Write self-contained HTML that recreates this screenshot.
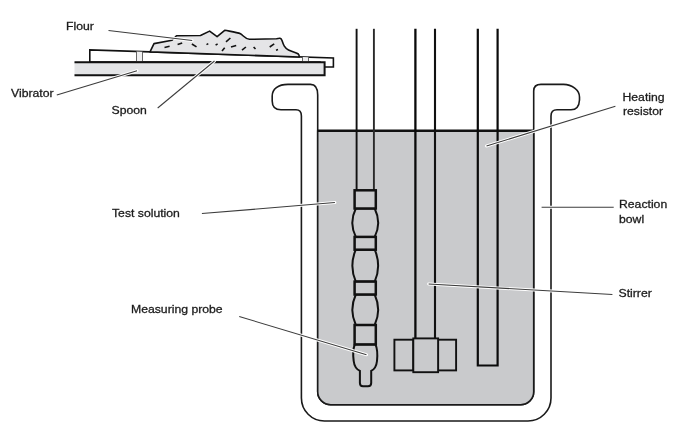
<!DOCTYPE html>
<html><head><meta charset="utf-8"><style>
html,body{margin:0;padding:0;background:#fff;width:699px;height:435px;overflow:hidden;}
svg{display:block;}
text{font-family:"Liberation Sans",sans-serif;font-size:11.7px;fill:#1c1c1c;stroke:#1c1c1c;stroke-width:0.3;}
</style></head><body>
<svg width="699" height="435" viewBox="0 0 699 435">
<defs><filter id="soft" x="-5%" y="-20%" width="110%" height="140%"><feOffset dx="0" dy="0"/></filter></defs>
<!-- Bowl body -->
<path d="M317.7,95 Q317.7,84.4 310.5,84.4 L288,84.4 C278,84.4 272.2,89 272.2,96 L272.2,101 Q272.2,109.8 281,109.8 L296,109.8 Q301.4,109.8 301.4,116 L301.4,398 A23,23 0 0 0 324.4,421 L528,421 A23,23 0 0 0 551,398 L551,116 Q551,109.8 557,109.8 L571,109.8 Q579,109.8 579.5,100 L579.5,97 C579.5,90 572,84.4 563.5,84.4 L541,84.4 Q533.7,84.4 533.7,91 L533.7,391.7 A13,13 0 0 1 520.7,404.7 L330.7,404.7 A13,13 0 0 1 317.7,391.7 Z" fill="#fff" stroke="#1a1a1a" stroke-width="1.6"/>
<!-- liquid -->
<path d="M317.7,131 L533.7,131 L533.7,391.7 A13,13 0 0 1 520.7,404.7 L330.7,404.7 A13,13 0 0 1 317.7,391.7 Z" fill="#c9cacc" stroke="#1a1a1a" stroke-width="1.6"/>
<line x1="317.7" y1="130.8" x2="533.7" y2="130.8" stroke="#111" stroke-width="2.6"/>

<!-- probe tube -->
<g fill="none">
<line x1="356.6" y1="28.8" x2="356.6" y2="191" stroke="#111" stroke-width="1.9"/>
<line x1="373.9" y1="28.8" x2="373.9" y2="191" stroke="#2a2a2a" stroke-width="1.9"/>
<!-- stirrer shaft -->
<line x1="415.4" y1="28.7" x2="415.4" y2="338.4" stroke="#0a0a0a" stroke-width="2.3"/>
<line x1="435" y1="28.7" x2="435" y2="338.4" stroke="#111" stroke-width="2.1"/>
<!-- heater -->
<path d="M477.8,28.7 L477.8,365.5 L497.6,365.5 L497.6,28.7" stroke="#0a0a0a" stroke-width="2.2"/>
</g>
<!-- probe body -->
<g stroke="#111" fill="#c9cacc">
<path d="M355.8,208.5 A32.2,32.2 0 0 0 355.8,236.9 L374.7,236.9 A32.2,32.2 0 0 0 374.7,208.5 Z" stroke-width="2"/>
<path d="M355.8,249.7 A40.2,40.2 0 0 0 355.8,281.6 L374.7,281.6 A40.2,40.2 0 0 0 374.7,249.7 Z" stroke-width="2"/>
<path d="M355.8,294.5 A36.9,36.9 0 0 0 355.8,325 L374.7,325 A36.9,36.9 0 0 0 374.7,294.5 Z" stroke-width="2"/>
<path d="M354.8,344.4 C353,349 353,356 353.7,361 C354.3,366.5 356.5,369.3 359.9,370.8 L359.9,383 Q359.9,386.2 363,386.2 L368,386.2 Q371.2,386.2 371.2,383 L371.2,370.8 C374.6,369.3 376.4,366.5 377,361 C377.5,356 377.5,349 375.5,344.4 Z" stroke-width="2"/>
<rect x="354.6" y="190.3" width="21.2" height="18.2" stroke-width="2.5"/>
<rect x="354.6" y="236.9" width="21.2" height="12.8" stroke-width="2.5"/>
<rect x="354.6" y="281.6" width="21.2" height="12.9" stroke-width="2.5"/>
<rect x="354.6" y="325" width="21.2" height="19.4" stroke-width="2.5"/>
</g>
<!-- stirrer blades -->
<g stroke="#111" fill="#c9cacc" stroke-width="1.9">
<rect x="394.4" y="339.7" width="18.9" height="30.7"/>
<rect x="438.1" y="339.7" width="18" height="30.7"/>
<rect x="413.3" y="338.4" width="24.8" height="33.8"/>
</g>

<!-- spoon -->
<g transform="translate(0,0.35)">
<path d="M89.8,61.8 L89.8,49.6 L333.4,57.6 L333.4,66.7 L320,66.7 L320,61.8 Z" fill="#fff" stroke="#111" stroke-width="1.6"/>
<path d="M136.5,51.2 L142.5,51.4 L142.5,61 L136.5,61 Z M302.5,56.6 L308.5,56.8 L308.5,61 L302.5,61 Z" fill="#efeff0"/>
<g stroke="#555" stroke-width="0.9">
<line x1="136.5" y1="51.2" x2="136.5" y2="61"/>
<line x1="142.5" y1="51.4" x2="142.5" y2="61"/>
<line x1="302.5" y1="56.6" x2="302.5" y2="61"/>
<line x1="308.5" y1="56.8" x2="308.5" y2="61"/>
</g>
<!-- vibrator -->
<rect x="74.5" y="61.8" width="250.1" height="13.2" fill="#e3e4e6"/>
<path d="M74.5,61.8 L324.6,61.8 L324.6,75 L74.5,75" fill="none" stroke="#111" stroke-width="2"/>
</g>
<!-- flour -->
<path d="M150,51.9 L154,43.6 L172,40.3 L176.5,35.8 L200.5,35.5 L209.6,31.1 L217.1,36.6 L224.7,30.3 C231,31.5 237,32.2 240.5,33.8 C243.5,35.5 245,39 249.5,39.3 L276.5,38.8 C279.5,38 281,37.8 282,40.5 C283.5,45 284.5,48 288.5,50 C292.5,52 296.5,52.8 298.3,54 Q299.3,55.2 299.3,56.95 Z" fill="#e5e5e7" stroke="#111" stroke-width="1.6" stroke-linejoin="round"/>
<g stroke="#111" stroke-width="1.6" stroke-linecap="butt">
<line x1="164.5" y1="47.5" x2="169.6" y2="46.3"/>
<line x1="177.6" y1="44.6" x2="182.2" y2="42.9"/>
<line x1="191.9" y1="44" x2="196.5" y2="46.9"/>
<line x1="206.5" y1="44.6" x2="208.3" y2="43.6"/>
<line x1="215.6" y1="45.1" x2="217.6" y2="43.8"/>
<line x1="222" y1="50.9" x2="224.7" y2="47.7"/>
<line x1="226" y1="41.9" x2="230.4" y2="38"/>
<line x1="231" y1="47" x2="236.2" y2="45.5"/>
<line x1="242" y1="50.2" x2="245.9" y2="47"/>
<line x1="253.6" y1="47" x2="255.5" y2="49"/>
<line x1="269.7" y1="47" x2="274.2" y2="43.8"/>
<line x1="276" y1="50.2" x2="278" y2="49.6"/>
</g>

<!-- leader lines halo -->
<g stroke="#fff" stroke-width="3" stroke-linecap="round">
<line x1="108.5" y1="30.6" x2="192.2" y2="40.6"/>
<line x1="56.8" y1="95.1" x2="137" y2="70.8"/>
<line x1="157.7" y1="108" x2="214.5" y2="61"/>
<line x1="201.9" y1="213.6" x2="334.9" y2="202.6"/>
<line x1="239.2" y1="316.5" x2="366.5" y2="354.7"/>
<line x1="486.5" y1="146" x2="615.4" y2="106.2"/>
<line x1="541.6" y1="207.2" x2="613.7" y2="207.2"/>
<line x1="428.6" y1="284" x2="612.4" y2="294.5"/>
</g>
<g stroke="#3c3c3c" stroke-width="1.05">
<line x1="108.5" y1="30.6" x2="192.2" y2="40.6"/>
<line x1="56.8" y1="95.1" x2="137" y2="70.8"/>
<line x1="157.7" y1="108" x2="214.5" y2="61"/>
<line x1="201.9" y1="213.6" x2="334.9" y2="202.6"/>
<line x1="239.2" y1="316.5" x2="366.5" y2="354.7"/>
<line x1="486.5" y1="146" x2="615.4" y2="106.2"/>
<line x1="541.6" y1="207.2" x2="613.7" y2="207.2"/>
<line x1="428.6" y1="284" x2="612.4" y2="294.5"/>
</g>

<!-- labels -->
<g filter="url(#soft)">
<text transform="translate(66,30.4) scale(1.045,1)">Flour</text>
<text transform="translate(11,97.2) scale(1.045,1)">Vibrator</text>
<text transform="translate(111.5,113.6) scale(1.045,1)">Spoon</text>
<text transform="translate(112,216.9) scale(1.045,1)">Test solution</text>
<text transform="translate(131,313) scale(1.045,1)">Measuring probe</text>
<text transform="translate(622.5,100.8) scale(1.045,1)">Heating</text>
<text transform="translate(623,115.3) scale(1.045,1)">resistor</text>
<text transform="translate(619,208) scale(1.045,1)">Reaction</text>
<text transform="translate(619,223) scale(1.045,1)">bowl</text>
<text transform="translate(618.5,296.9) scale(1.045,1)">Stirrer</text>
</g>
</svg>
</body></html>
